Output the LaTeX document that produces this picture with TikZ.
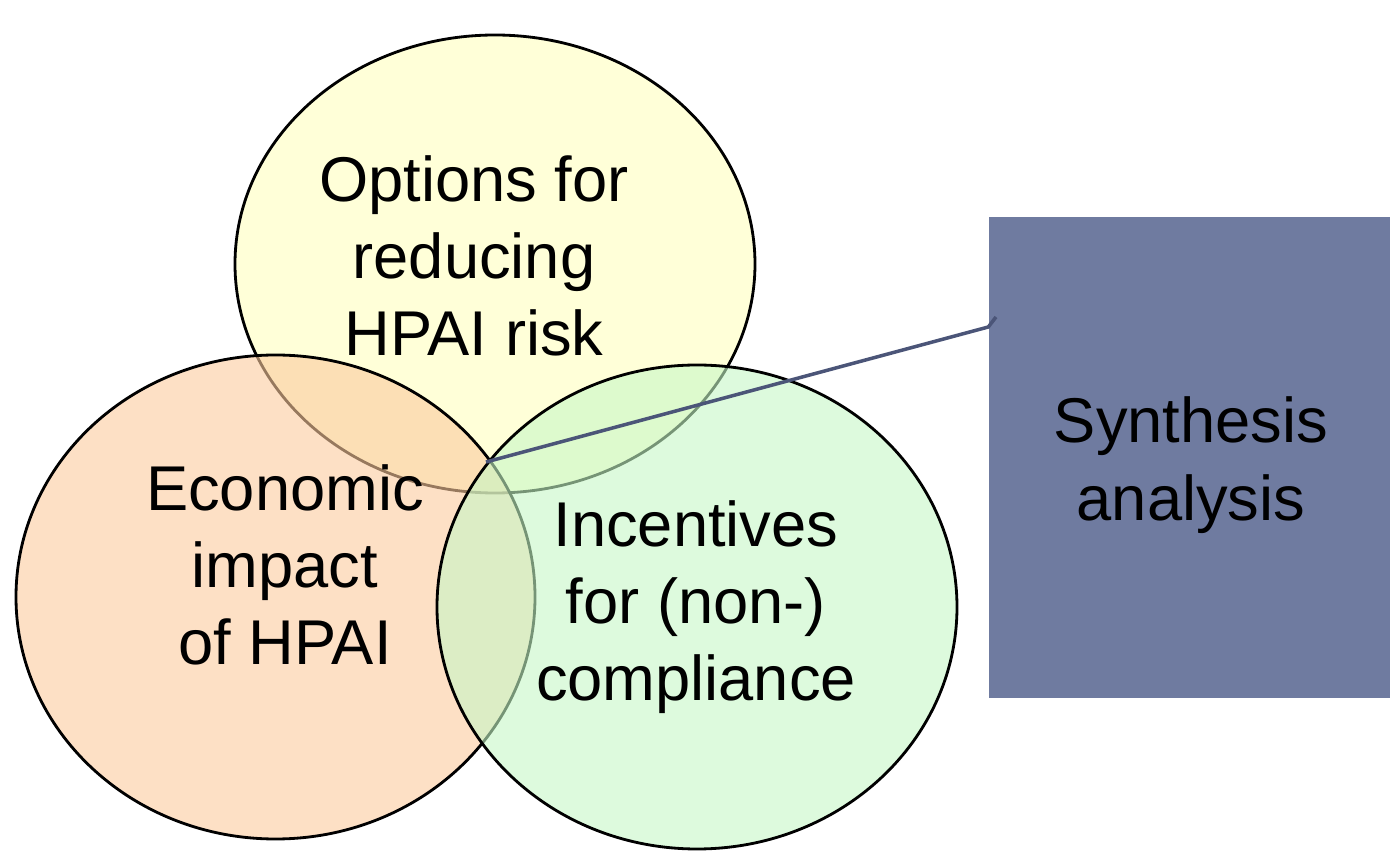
\documentclass[tikz,border=0pt]{standalone}
\usepackage{fontspec}
\setmainfont{Liberation Sans}
\usetikzlibrary{shapes.geometric}
\usepackage{xcolor}

\definecolor{jaune}{HTML}{FFFFBE}
\definecolor{orange}{HTML}{FCCB9E}
\definecolor{vert}{HTML}{C6F7C6}
\definecolor{synth}{HTML}{6F7BA0}
\definecolor{trait}{HTML}{4B5578}

\begin{document}
\begin{tikzpicture}[
    bulle/.style={ellipse, draw, line width=0.8pt, fill opacity=0.6, inner sep=0pt},
    texte/.style={align=center, font=\fontsize{18}{22}\selectfont}
  ]
      \useasboundingbox (0,0) rectangle (13.9,8.51);

      % Ensembles
      \node[bulle, fill=jaune, minimum width=5.2cm, minimum height=4.58cm] (options) at (4.95,5.87) {};
      \node[bulle, fill=orange, minimum width=5.19cm, minimum height=4.84cm] (eco) at (2.755,2.54) {};
      \node[bulle, fill=vert, minimum width=5.2cm, minimum height=4.84cm] (incit) at (6.97,2.44) {};

      % Synthese
      \node[fill=synth, minimum width=4.01cm, minimum height=4.81cm, inner sep=0pt] (synthese) at (11.895,3.935) {};

      % Textes
      \node[texte] (t-options) at (4.74,5.95) {Options for\\reducing\\HPAI risk};
      \node[texte] (t-eco) at (2.85,2.86) {Economic\\impact\\of HPAI};
      \node[texte] (t-incit) at (6.96,2.44) {Incentives\\for (non-)\\compliance};
      \node[texte] (t-synthese) at (11.91,3.86) {Synthesis\\analysis};

      % Trait
      \coordinate (centre) at (4.86,3.89);
      \coordinate (bout) at (9.96,5.34);
      \draw[trait, line width=1pt] (centre) -- (synthese.west |- 0,5.24) -- (bout);
    \end{tikzpicture}
\end{document}
